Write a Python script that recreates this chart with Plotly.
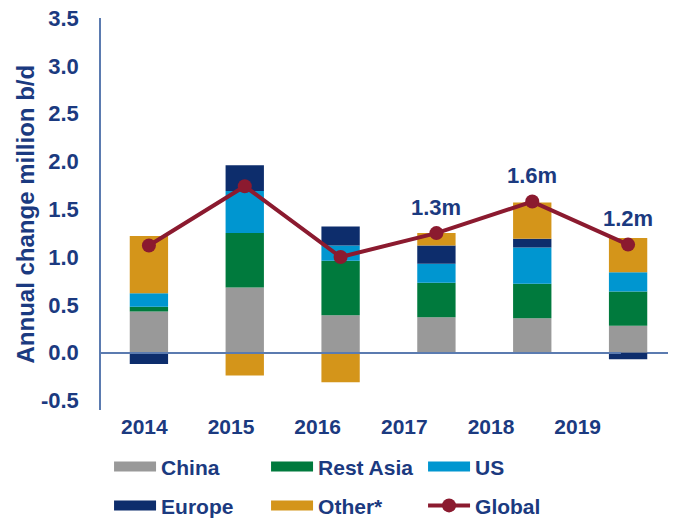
import plotly.graph_objects as go

# values, million b/d
years = ['2014', '2015', '2016', '2017', '2018', '2019']
china = [0.43, 0.68, 0.39, 0.37, 0.36, 0.28]
rest_asia = [0.05, 0.57, 0.57, 0.36, 0.36, 0.36]
us = [0.14, 0.44, 0.16, 0.20, 0.38, 0.20]
europe = [-0.12, 0.27, 0.20, 0.19, 0.09, -0.07]
other = [0.60, -0.24, -0.31, 0.13, 0.38, 0.36]
global_total = [1.12, 1.74, 1.00, 1.25, 1.58, 1.13]
callouts = {'2017': '1.3m', '2018': '1.6m', '2019': '1.2m'}
yticks = [-0.5, 0, 0.5, 1, 1.5, 2, 2.5, 3, 3.5]

navy = '#1b3a80'
axis_col = '#5b7bb0'
font = 'Liberation Sans, Arial, sans-serif'
pos = list(range(len(years)))  # slot of each year on the x axis

series = [
    ('China', china, '#999999', 'legend'),
    ('Rest Asia', rest_asia, '#007a3d', 'legend'),
    ('US', us, '#0096d0', 'legend'),
    ('Europe', europe, '#0d2d6c', 'legend2'),
    ('Other*', other, '#d4951a', 'legend2'),
]

fig = go.Figure()
for name, vals, col, _ in series:
    fig.add_trace(go.Bar(x=pos, y=vals, name=name, marker=dict(color=col, line=dict(width=0)),
                         showlegend=False))
# legend entries drawn as thick line swatches (wide rectangles like the original)
for name, vals, col, lg in series:
    fig.add_trace(go.Scatter(x=[None], y=[None], mode='lines', name='<b>%s</b>' % name, legend=lg,
                             line=dict(color=col, width=13)))

fig.add_trace(go.Scatter(x=pos, y=global_total, name='<b>Global</b>', mode='lines+markers',
                         legend='legend2', line=dict(color='#8b1a2f', width=4),
                         marker=dict(size=14, color='#8b1a2f')))

# year labels live on a second, narrower axis (the original's labels drift left of the bars)
fig.add_trace(go.Scatter(x=pos, y=[None] * len(years), xaxis='x2', showlegend=False,
                         hoverinfo='skip'))

for yr, txt in callouts.items():
    i = years.index(yr)
    fig.add_annotation(x=pos[i], y=global_total[i], text='<b>%s</b>' % txt, showarrow=False,
                       yshift=26, font=dict(size=22, color=navy, family=font))

fig.add_annotation(xref='paper', yref='paper', x=-0.133, y=0.5, xanchor='center', yanchor='middle',
                   textangle=-90, text='<b>Annual change million b/d</b>', showarrow=False,
                   font=dict(size=24, color=navy, family=font))

legend_style = dict(orientation='h', xanchor='left', yanchor='top', entrywidth=100,
                    entrywidthmode='pixels', font=dict(size=21, color=navy, family=font),
                    bgcolor='rgba(0,0,0,0)', itemwidth=42)

# page body adds an 8px offset, so margins are trimmed by that much
fig.update_layout(
    width=676, height=527,
    margin=dict(l=93, r=8, t=10, b=125, autoexpand=False),
    paper_bgcolor='white', plot_bgcolor='rgba(0,0,0,0)',
    barmode='relative', bargap=0.6,
    font=dict(family=font, color=navy),
    xaxis=dict(range=[-0.5, 5.5], showticklabels=False, showgrid=False, showline=False,
               zeroline=False, automargin=False),
    xaxis2=dict(anchor='y', domain=[0, 520 / 575], range=[-0.5, 5.5], tickvals=pos,
                ticktext=['<b>%s</b>' % y for y in years], showgrid=False, showline=False,
                zeroline=False, ticks='', ticklabelstandoff=2, automargin=False,
                tickfont=dict(size=21, color=navy, family=font)),
    yaxis=dict(range=[-0.6, 3.5], tickvals=yticks,
               ticktext=['<b>%.1f</b>' % v for v in yticks],
               showgrid=False, showline=True, linecolor=axis_col, linewidth=1.5,
               zeroline=True, zerolinecolor=axis_col, zerolinewidth=1.5,
               ticks='', ticklabelstandoff=16, ticklabeloverflow='allow', automargin=False,
               tickfont=dict(size=22, color=navy, family=font)),
    legend=dict(x=0.014, y=-0.093, **legend_style),
    legend2=dict(x=0.014, y=-0.192, **legend_style),
)

fig.write_html('out.html')
